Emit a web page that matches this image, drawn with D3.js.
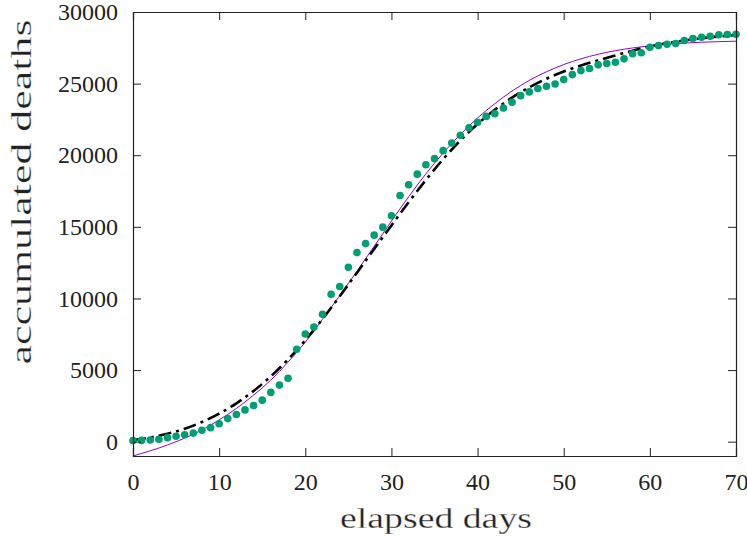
<!DOCTYPE html>
<html>
<head>
<meta charset="utf-8">
<script src="https://cdn.jsdelivr.net/npm/d3@7"></script>
<style>
  body { margin: 0; background: #fff; }
  svg text { font-family: "Liberation Serif", "DejaVu Serif", serif; fill: #222; }
  .axis-label { stroke: #fff; stroke-width: 0.3px; }
</style>
</head>
<body>
<div id="chart"></div>
<script>
// observed accumulated deaths, one per day 0..70
const days = d3.range(0, 71);
const deaths = [80, 90, 120, 170, 280, 380, 480, 600, 790, 980,
  1250, 1610, 1900, 2220, 2530, 2900, 3440, 3950, 4420, 6450,
  7520, 8000, 8890, 10290, 10830, 12180, 13200, 13830, 14420, 14980,
  15770, 17190, 17940, 18680, 19340, 19760, 20320, 20850, 21390, 21920,
  22300, 22710, 22900, 23300, 23700, 24160, 24420, 24660, 24810, 24970,
  25280, 25630, 25910, 26050, 26310, 26400, 26490, 26730, 27080, 27150,
  27540, 27660, 27750, 27800, 28010, 28150, 28240, 28310, 28410, 28430, 28450];

// fitted curves, every 2 days
const fitDays = d3.range(0, 71, 2);
const fitA = [100, 290, 550, 900, 1370, 1960, 2680, 3540, 4560, 5740,
  7080, 8560, 10150, 11800, 13450, 15100, 16720, 18270, 19720, 21030,
  22180, 23170, 24020, 24740, 25340, 25840, 26260, 26630, 26970, 27300,
  27600, 27830, 28010, 28170, 28290, 28390];
const fitB = [-1000, -640, -230, 250, 820, 1520, 2320, 3250, 4300, 5550,
  6950, 8550, 10200, 11900, 13650, 15400, 17100, 18700, 20150, 21450,
  22600, 23600, 24480, 25220, 25830, 26330, 26730, 27050, 27300, 27490,
  27640, 27750, 27830, 27890, 27930, 27960];

const xTicks = [0, 10, 20, 30, 40, 50, 60, 70];
const yTicks = [0, 5000, 10000, 15000, 20000, 25000, 30000];

const w = 747, h = 538;
const margin = {left: 133, right: 11, top: 12, bottom: 82};

const xScale = d3.scaleLinear().domain([0, 70]).range([margin.left, w - margin.right]);
const yScale = d3.scaleLinear().domain([-1000, 30000]).range([h - margin.bottom, margin.top]);

const svg = d3.select("#chart").append("svg")
  .attr("width", w)
  .attr("height", h);

svg.append("clipPath").attr("id", "plot")
  .append("rect")
  .attr("x", margin.left).attr("y", margin.top)
  .attr("width", w - margin.left - margin.right)
  .attr("height", h - margin.top - margin.bottom);

const line = d3.line()
  .x((d, i) => xScale(fitDays[i]))
  .y(d => yScale(d))
  .curve(d3.curveMonotoneX);

// purple fit
svg.append("path")
  .datum(fitB)
  .attr("clip-path", "url(#plot)")
  .attr("d", line)
  .attr("fill", "none")
  .attr("stroke", "#9400d3")
  .attr("stroke-width", 1);

// black dash-dot fit
svg.append("path")
  .datum(fitA)
  .attr("clip-path", "url(#plot)")
  .attr("d", line)
  .attr("fill", "none")
  .attr("stroke", "#000")
  .attr("stroke-width", 2.6)
  .attr("stroke-dasharray", "13,5,3,5");

// data points
svg.selectAll("circle.pt")
  .data(deaths)
  .enter()
  .append("circle")
  .attr("class", "pt")
  .attr("cx", (d, i) => xScale(days[i]))
  .attr("cy", d => yScale(d))
  .attr("r", 3.8)
  .attr("fill", "#009e73");

// axes, ticks pointing inward on every side
const xAxis = d3.axisBottom(xScale).tickValues(xTicks).tickSize(-8).tickPadding(17).tickFormat(d3.format("d"));
const yAxis = d3.axisLeft(yScale).tickValues(yTicks).tickSize(-8).tickPadding(15).tickFormat(d3.format("d"));

svg.append("g")
  .attr("transform", "translate(0," + (h - margin.bottom) + ")")
  .call(xAxis);
svg.append("g")
  .attr("transform", "translate(" + margin.left + ",0)")
  .call(yAxis);
svg.append("g")
  .attr("transform", "translate(0," + margin.top + ")")
  .call(d3.axisTop(xScale).tickValues(xTicks).tickSize(-8).tickFormat(""));
svg.append("g")
  .attr("transform", "translate(" + (w - margin.right) + ",0)")
  .call(d3.axisRight(yScale).tickValues(yTicks).tickSize(-8).tickFormat(""));

svg.selectAll(".domain").attr("stroke", "#222").attr("stroke-width", 1.2);
svg.selectAll(".tick line").attr("stroke", "#222");
svg.selectAll(".tick text").style("font-size", "24px").attr("fill", "#222");

svg.append("text")
  .attr("class", "axis-label")
  .attr("x", 436)
  .attr("y", 528)
  .attr("text-anchor", "middle")
  .attr("textLength", 192)
  .attr("lengthAdjust", "spacingAndGlyphs")
  .style("font-size", "29px")
  .attr("fill", "#222")
  .text("elapsed days");

svg.append("text")
  .attr("class", "axis-label")
  .attr("transform", "translate(31,192) rotate(-90)")
  .attr("text-anchor", "middle")
  .attr("textLength", 345)
  .attr("lengthAdjust", "spacingAndGlyphs")
  .style("font-size", "29px")
  .attr("fill", "#222")
  .text("accumulated deaths");
</script>
</body>
</html>
